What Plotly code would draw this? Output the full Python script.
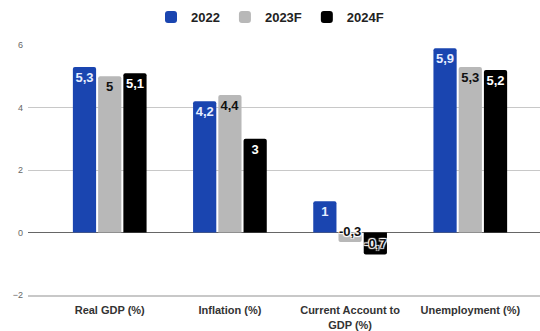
import plotly.graph_objects as go

categories = ["Real GDP (%)", "Inflation (%)", "Current Account to<br>GDP (%)", "Unemployment (%)"]
series_names = ["2022", "2023F", "2024F"]
values_2022 = [5.3, 4.2, 1.0, 5.9]
values_2023f = [5.0, 4.4, -0.3, 5.3]
values_2024f = [5.1, 3.0, -0.7, 5.2]
y_ticks = [-2, 0, 2, 4, 6]

colors = ["#1a45b0", "#b8b8b8", "#000000"]
halo = "1px 1px 1px #fff, -1px -1px 1px #fff, 1px -1px 1px #fff, -1px 1px 1px #fff"


def fmt(v):
    return f"{v:g}".replace(".", ",")


def label_style(vals, pos_color):
    cols = [pos_color if v >= 0 else "#111111" for v in vals]
    shs = ["none" if v >= 0 else halo for v in vals]
    return cols, shs


pos_label_colors = ["#e6eeff", "#111111", "#ffffff"]

fig = go.Figure()
for name, vals, col, plc in zip(series_names, [values_2022, values_2023f, values_2024f], colors, pos_label_colors):
    lc, sh = label_style(vals, plc)
    fig.add_trace(go.Bar(
        name=name,
        x=categories,
        y=vals,
        marker=dict(color=col, line=dict(width=0)),
        text=[fmt(v) for v in vals],
        textposition="inside",
        insidetextanchor="end",
        constraintext="none",
        textangle=0,
        textfont=dict(family="Arial", size=13, color=lc, weight="bold", shadow=sh),
        hoverinfo="skip",
    ))

fig.update_layout(
    width=540,
    height=331,
    margin=dict(l=28, r=0, t=45, b=34),
    paper_bgcolor="white",
    plot_bgcolor="white",
    barmode="group",
    bargap=0.37,
    bargroupgap=0.08,
    barcornerradius=2,
    font=dict(family="Arial", color="#333"),
    legend=dict(
        orientation="h",
        xref="container", yref="container",
        x=0.5, xanchor="center",
        y=1 - 17 / 331, yanchor="middle",
        font=dict(family="Arial", size=13, color="#222", weight="bold"),
        itemclick=False,
    ),
    xaxis=dict(
        range=[-0.68, 3.58],
        showgrid=False,
        showline=True,
        linecolor="#c8c8c8",
        linewidth=2,
        ticks="",
        tickfont=dict(family="Arial", size=11, color="#333", weight="bold"),
        ticklabelstandoff=4,
    ),
    yaxis=dict(
        range=[-2, 6],
        tickvals=y_ticks,
        showgrid=True,
        gridcolor="#c8c8c8",
        gridwidth=1,
        zeroline=True,
        zerolinecolor="#666666",
        zerolinewidth=1,
        showline=False,
        ticks="",
        tickfont=dict(family="Arial", size=9, color="#666"),
        ticklabelstandoff=4,
    ),
)

fig.write_html(
    "out.html",
    config={"displayModeBar": False, "staticPlot": True},
    post_script="document.body.style.margin='0';",
)
